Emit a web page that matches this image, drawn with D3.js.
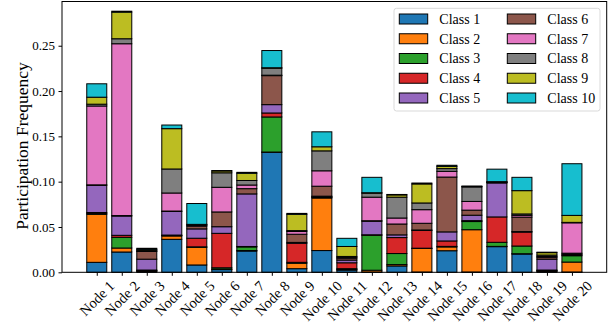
<!DOCTYPE html>
<html>
<head>
<meta charset="utf-8">
<script src="https://cdn.jsdelivr.net/npm/d3@7"></script>
<style>
  html, body { margin: 0; padding: 0; background: #fff; }
  svg { display: block; font-family: "Liberation Serif", "Times New Roman", serif; }
</style>
</head>
<body>
<svg id="chart" width="616" height="324"></svg>
<script>
// Participation frequency of each class on each node (stacked bottom to top)
const nodes = ["Node 1","Node 2","Node 3","Node 4","Node 5","Node 6","Node 7","Node 8","Node 9","Node 10",
               "Node 11","Node 12","Node 13","Node 14","Node 15","Node 16","Node 17","Node 18","Node 19","Node 20"];
const classNames = ["Class 1","Class 2","Class 3","Class 4","Class 5","Class 6","Class 7","Class 8","Class 9","Class 10"];
const classColors = ["#1f77b4","#ff7f0e","#2ca02c","#d62728","#9467bd","#8c564b","#e377c2","#7f7f7f","#bcbd22","#17becf"];

const class1  = [0.011, 0.0224, 0.001, 0.0364, 0.0081, 0.003, 0.0235, 0.1324, 0.004, 0.024, 0.0025, 0.0003, 0.007, 0.0003, 0.0238, 0.0003, 0.0283, 0.0202, 0.001, 0.0003];
const class2  = [0.053, 0.0044, 0.0005, 0.0037, 0.0195, 0.0005, 0.0005, 0.0003, 0.006, 0.058, 0.0005, 0.002, 0.0015, 0.026, 0.0042, 0.0467, 0.0003, 0.0003, 0.0005, 0.011];
const class3  = [0.001, 0.0118, 0.0005, 0.0005, 0.0005, 0.0015, 0.004, 0.0387, 0.001, 0.0005, 0.001, 0.0386, 0.0122, 0.0003, 0.0006, 0.009, 0.0045, 0.0085, 0.0005, 0.007];
const class4  = [0.001, 0.0022, 0.0005, 0.0005, 0.0095, 0.038, 0.0005, 0.0044, 0.021, 0.001, 0.0065, 0.0005, 0.0176, 0.0196, 0.006, 0.001, 0.028, 0.0154, 0.0005, 0.0008];
const class5  = [0.030, 0.0213, 0.012, 0.026, 0.0103, 0.0073, 0.058, 0.0092, 0.001, 0.0005, 0.003, 0.015, 0.003, 0.0005, 0.010, 0.006, 0.0375, 0.0005, 0.012, 0.001];
const class6  = [0.0005, 0.0005, 0.0085, 0.0005, 0.003, 0.0163, 0.0058, 0.032, 0.009, 0.011, 0.002, 0.0005, 0.012, 0.0074, 0.0605, 0.0056, 0.0005, 0.016, 0.002, 0.001];
const class7  = [0.087, 0.1896, 0.0005, 0.0199, 0.001, 0.0272, 0.004, 0.0005, 0.003, 0.017, 0.001, 0.026, 0.0066, 0.015, 0.0063, 0.0096, 0.0003, 0.002, 0.001, 0.0335];
const class8  = [0.002, 0.0055, 0.001, 0.0265, 0.0005, 0.016, 0.005, 0.0077, 0.001, 0.022, 0.001, 0.0044, 0.023, 0.0074, 0.003, 0.016, 0.0003, 0.0015, 0.0015, 0.0005];
const class9  = [0.0077, 0.0294, 0.001, 0.0445, 0.0005, 0.002, 0.008, 0.0005, 0.018, 0.0045, 0.011, 0.0005, 0.0025, 0.021, 0.0025, 0.0005, 0.0003, 0.0257, 0.0027, 0.0077];
const class10 = [0.0148, 0.001, 0.001, 0.004, 0.023, 0.0005, 0.001, 0.019, 0.001, 0.0165, 0.009, 0.017, 0.0005, 0.001, 0.0012, 0.0005, 0.0138, 0.0147, 0.0005, 0.057];

const yTicks = [0.00, 0.05, 0.10, 0.15, 0.20, 0.25];
const yLabel = "Participation Frequency";

const series = [class1, class2, class3, class4, class5, class6, class7, class8, class9, class10];

// Rows for d3.stack: one object per node with a key per class
const rows = nodes.map((n, i) => {
  const r = { node: n, idx: i };
  classNames.forEach((c, k) => { r[c] = series[k][i]; });
  return r;
});
const stacked = d3.stack().keys(classNames)(rows);

const svg = d3.select("#chart");
const plot = { left: 62, right: 606.7, top: 1.5, bottom: 272.3 };

// Category positions: bar width 0.8 with 5% margins around the bar extents
const x = d3.scaleLinear().domain([-1.39, nodes.length - 1 + 1.39]).range([plot.left, plot.right]);
const barW = x(0.8) - x(0);
const y = d3.scaleLinear().domain([0, 0.2988]).range([plot.bottom, plot.top]);

// Stacked bars
const g = svg.append("g");
stacked.forEach((layer, k) => {
  g.selectAll(null)
    .data(layer)
    .join("rect")
    .attr("x", d => x(d.data.idx) - barW / 2)
    .attr("y", d => y(d[1]))
    .attr("width", barW)
    .attr("height", d => Math.max(0, y(d[0]) - y(d[1])))
    .attr("fill", classColors[k])
    .attr("stroke", "#000")
    .attr("stroke-width", 1);
});

// Frame
svg.append("rect")
  .attr("x", plot.left).attr("y", plot.top)
  .attr("width", plot.right - plot.left).attr("height", plot.bottom - plot.top)
  .attr("fill", "none").attr("stroke", "#000").attr("stroke-width", 1);

// Y axis
const yAxis = d3.axisLeft(y).tickValues(yTicks).tickFormat(d3.format(".2f")).tickSizeOuter(0).tickSize(3.5).tickPadding(3.5);
const yg = svg.append("g").attr("transform", `translate(${plot.left},0)`).call(yAxis);
yg.select(".domain").remove();
yg.selectAll("text").attr("font-size", 13).attr("font-family", "Liberation Serif").attr("fill", "#000");
yg.selectAll("line").attr("stroke", "#000");

// X axis with 45-degree labels centred under each tick
const xAxis = d3.axisBottom(x).tickValues(d3.range(nodes.length)).tickFormat(i => nodes[i]).tickSizeOuter(0).tickSize(3.5);
const xg = svg.append("g").attr("transform", `translate(0,${plot.bottom})`).call(xAxis);
xg.select(".domain").remove();
xg.selectAll("line").attr("stroke", "#000");
const fs = 14.5;
xg.selectAll("text")
  .attr("font-size", fs)
  .attr("font-family", "Liberation Serif")
  .attr("fill", "#000")
  .attr("text-anchor", "middle")
  .attr("dy", "0.32em")
  .attr("y", 0)
  .each(function(i) {
    const w = this.getComputedTextLength();
    const h = fs * 0.72;
    const half = (w + h) * Math.SQRT1_2 / 2;
    d3.select(this).attr("transform", `translate(0,${7.5 + half}) rotate(-45)`);
  });

// Y axis title
svg.append("text")
  .attr("transform", `translate(27.5,146) rotate(-90)`)
  .attr("text-anchor", "middle")
  .attr("font-size", 17.5)
  .attr("fill", "#000")
  .text(yLabel);

// Legend: two columns of five entries
const lg = svg.append("g");
lg.append("rect")
  .attr("x", 394).attr("y", 8.3).attr("width", 206).attr("height", 102.7)
  .attr("rx", 2.5).attr("fill", "#fff").attr("fill-opacity", 0.8)
  .attr("stroke", "#d9d9d9").attr("stroke-width", 1);
classNames.forEach((c, k) => {
  const col = Math.floor(k / 5), row = k % 5;
  const px = col === 0 ? 399.3 : 507.3;
  const cy = 19 + row * 19.75;
  lg.append("rect")
    .attr("x", px).attr("y", cy - 5).attr("width", 28.4).attr("height", 10)
    .attr("fill", classColors[k]).attr("stroke", "#000").attr("stroke-width", 1);
  lg.append("text")
    .attr("x", px + 40).attr("y", cy).attr("dy", "0.35em")
    .attr("font-size", 14).attr("fill", "#000")
    .text(c);
});
</script>
</body>
</html>
